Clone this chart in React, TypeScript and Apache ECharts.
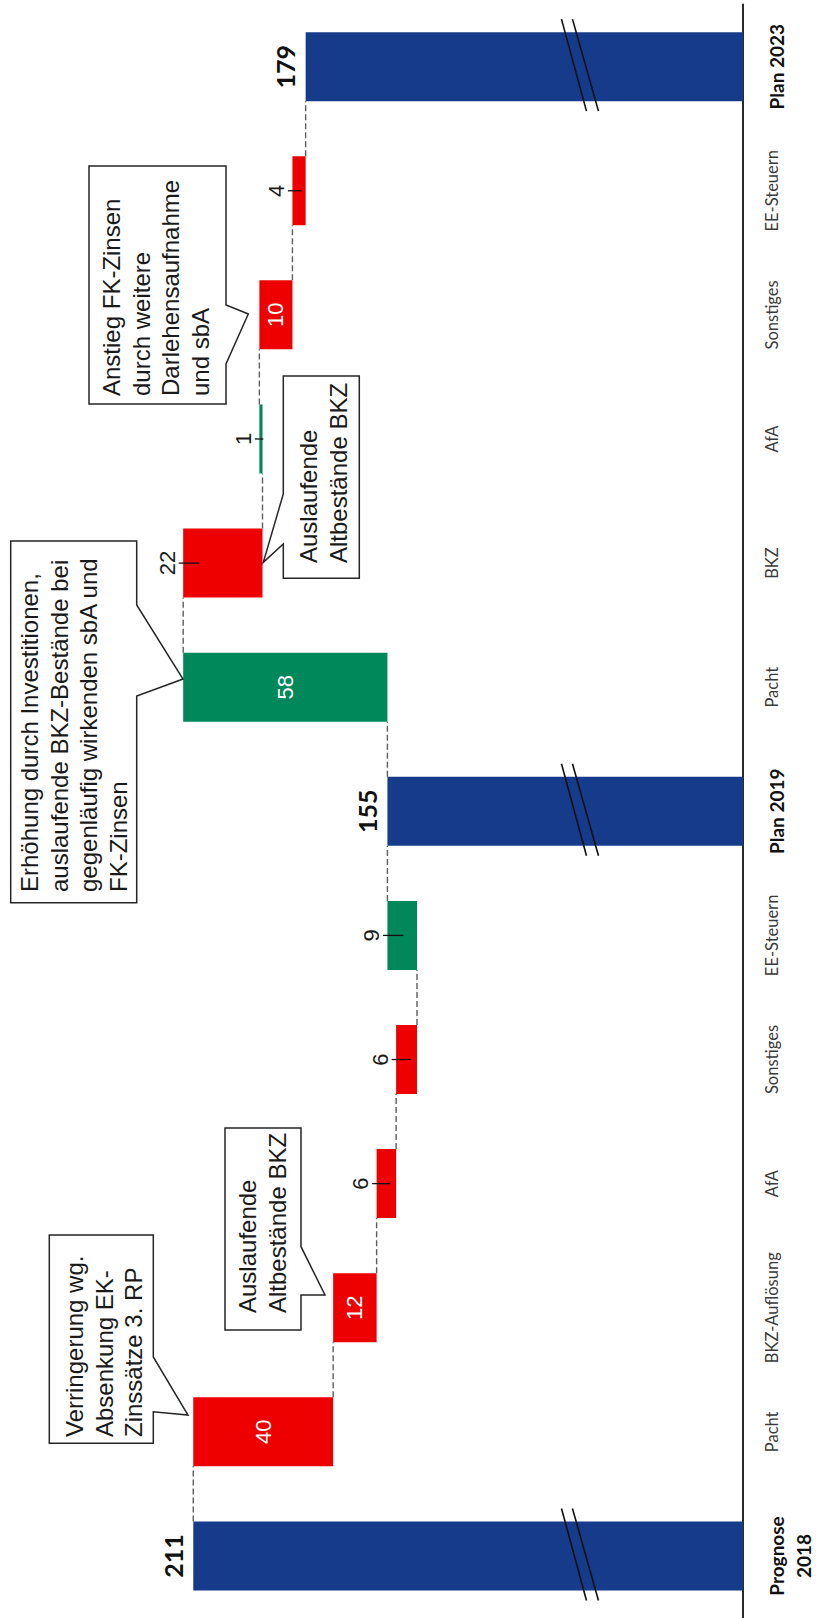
import React, { useEffect, useRef } from 'react';
import * as echarts from 'echarts';

// ---------- data ----------
const categories = [
  'Prognose\n2018', 'Pacht', 'BKZ-Auflösung', 'AfA', 'Sonstiges', 'EE-Steuern',
  'Plan 2019', 'Pacht', 'BKZ', 'AfA', 'Sonstiges', 'EE-Steuern', 'Plan 2023',
];
const isTotal = [true, false, false, false, false, false, true, false, false, false, false, false, true];
// first total is given, later totals (null) are the running sum; other entries are changes
const steps: (number | null)[] = [211, -40.2, -12.5, -5.6, -6.0, 8.5, null, 58.7, -22.8, 0.9, -9.5, -3.8, null];
const valueLabels = ['211', '40', '12', '6', '6', '9', '155', '58', '22', '1', '10', '4', '179'];
const labelSpots = ['total', 'inside', 'inside', 'outside', 'outside', 'outside', 'total', 'inside', 'outside', 'outside', 'inside', 'outside', 'total'];
const breakValue = 100;

const calloutTexts = [
  'Verringerung wg.\nAbsenkung EK-\nZinssätze 3. RP',
  'Auslaufende\nAltbestände BKZ',
  'Erhöhung durch Investitionen,\nauslaufende BKZ-Bestände bei\ngegenläufig wirkenden sbA und\nFK-Zinsen',
  'Auslaufende\nAltbestände BKZ',
  'Anstieg FK-Zinsen\ndurch weitere\nDarlehensaufnahme\nund sbA',
];

// ---------- styling ----------
const BLUE = '#163B8B';
const RED = '#EE0000';
const GREEN = '#00875A';
const BAR_W = 69;

const calloutShapes: number[][][] = [
  [[49.3, 1235], [153.3, 1235], [153.3, 1357], [188, 1415], [153.3, 1411.7], [153.3, 1443.3], [49.3, 1443.3]],
  [[225, 1128], [301, 1128], [301, 1246.7], [325, 1295], [301, 1295], [301, 1330], [225, 1330]],
  [[10.7, 541], [136.7, 541], [136.7, 605], [183, 679], [136.7, 696], [136.7, 902.7], [10.7, 902.7]],
  [[283.3, 376], [359.3, 376], [359.3, 578.3], [283.3, 578.3], [283.3, 544], [263.3, 562.3], [283.3, 494]],
  [[89, 166], [226, 166], [226, 305], [248.3, 314], [226, 364], [226, 404], [89, 404]],
];
const calloutAnchors = [[60, 1437], [233, 1313], [15, 892], [294, 563], [97, 396]];

export default function App() {
  const ref = useRef<HTMLDivElement>(null);

  useEffect(() => {
    if (!ref.current) return;
    const chart = echarts.init(ref.current, null, { renderer: 'svg' });

    // waterfall geometry from steps
    const lows: number[] = [];
    const highs: number[] = [];
    const ends: number[] = [];
    const colors: string[] = [];
    let run = 0;
    steps.forEach((s, i) => {
      if (isTotal[i]) {
        const t = s == null ? run : s;
        run = t;
        lows.push(0);
        highs.push(t);
        colors.push(BLUE);
      } else {
        const start = run;
        const end = run + (s as number);
        lows.push(Math.min(start, end));
        highs.push(Math.max(start, end));
        colors.push((s as number) < 0 ? RED : GREEN);
        run = end;
      }
      ends.push(run);
    });

    const baseData = lows.map((l) => l);
    const visData = highs.map((h, i) => ({ value: h - lows[i], itemStyle: { color: colors[i] } }));

    const labelData = categories.map((_, i) => [i, lows[i], highs[i]]);
    const connData = categories.slice(0, -1).map((_, i) => [i, ends[i]]);
    const breakData = categories.map((_, i) => i).filter((i) => isTotal[i]).map((i) => [i, breakValue]);

    const graphic: any[] = [];
    calloutShapes.forEach((pts, k) => {
      graphic.push({
        type: 'polygon',
        z: 20,
        shape: { points: pts },
        style: { fill: '#fff', stroke: '#262626', lineWidth: 1.5 },
      });
      graphic.push({
        type: 'text',
        z: 21,
        x: calloutAnchors[k][0],
        y: calloutAnchors[k][1],
        rotation: Math.PI / 2,
        style: {
          text: calloutTexts[k],
          fontFamily: 'Liberation Sans',
          fontSize: 24,
          lineHeight: 29.5,
          fill: '#1a1a1a',
          align: 'left',
          verticalAlign: 'top',
        },
      });
    });

    const option: any = {
      animation: false,
      grid: { left: 20, right: 73, top: 4.6, height: 1615 },
      xAxis: { type: 'value', inverse: true, min: 53, max: 260.8, show: false, splitLine: { show: false } },
      yAxis: {
        type: 'category',
        data: categories,
        position: 'right',
        axisLine: { onZero: false, lineStyle: { color: '#2b2b2b', width: 2 } },
        axisTick: { show: false },
        splitLine: { show: false },
        axisLabel: {
          interval: 0,
          rotate: 90,
          margin: 20,
          formatter: (v: string, idx: number) =>
            isTotal[idx] ? v.split('\n').map((s) => `{t|${s}}`).join('\n') : `{n|${v}}`,
          rich: {
            t: { fontFamily: 'Lato', fontWeight: 'bold', fontSize: 19, color: '#111', lineHeight: 27 },
            n: { fontFamily: 'Lato', fontSize: 16.5, color: '#3a3a3a' },
          },
        },
      },
      series: [
        {
          type: 'bar',
          stack: 'w',
          data: baseData,
          barWidth: BAR_W,
          silent: true,
          itemStyle: { color: 'rgba(0,0,0,0)' },
        },
        {
          type: 'bar',
          stack: 'w',
          data: visData,
          barWidth: BAR_W,
        },
        {
          type: 'custom',
          z: 3,
          encode: { x: 1, y: 0 },
          data: connData,
          renderItem: (params: any, api: any) => {
            const i = api.value(0);
            const v = api.value(1);
            const p0 = api.coord([v, i]);
            const p1 = api.coord([v, i + 1]);
            return {
              type: 'line',
              shape: { x1: p0[0], y1: p0[1] - BAR_W / 2, x2: p1[0], y2: p1[1] + BAR_W / 2 },
              style: { stroke: '#5e5e5e', lineWidth: 1.4, lineDash: [6, 3] },
            };
          },
        },
        {
          type: 'custom',
          z: 6,
          encode: { x: 1, y: 0 },
          data: breakData,
          renderItem: (params: any, api: any) => {
            const i = api.value(0);
            const v = api.value(1);
            const p = api.coord([v, i]);
            const top = p[1] - BAR_W / 2;
            const bot = p[1] + BAR_W / 2;
            const st = { stroke: '#111', lineWidth: 1.6 };
            return {
              type: 'group',
              children: [
                { type: 'line', shape: { x1: p[0] - 18, y1: top - 13, x2: p[0] + 7, y2: bot + 10 }, style: st },
                { type: 'line', shape: { x1: p[0] - 7, y1: top - 13, x2: p[0] + 19, y2: bot + 10 }, style: st },
              ],
            };
          },
        },
        {
          type: 'custom',
          z: 7,
          encode: { x: [1, 2], y: 0 },
          data: labelData,
          renderItem: (params: any, api: any) => {
            const idx = params.dataIndex;
            const i = api.value(0);
            const low = api.value(1);
            const high = api.value(2);
            const pH = api.coord([high, i]);
            const pL = api.coord([low, i]);
            const cs = params.coordSys;
            const xL = pH[0];
            const xR = Math.min(pL[0], cs.x + cs.width);
            const yc = pH[1];
            const spot = labelSpots[idx];
            const txt = valueLabels[idx];
            if (spot === 'inside') {
              return {
                type: 'text',
                x: (xL + xR) / 2,
                y: yc,
                rotation: Math.PI / 2,
                style: {
                  text: txt, x: 0, y: 0, fill: '#fff', fontFamily: 'Liberation Sans', fontSize: 22,
                  align: 'center', verticalAlign: 'middle',
                },
              };
            }
            if (spot === 'total') {
              return {
                type: 'text',
                x: xL - 8,
                y: yc,
                rotation: Math.PI / 2,
                style: {
                  text: txt, x: 0, y: 0, fill: '#111', fontFamily: 'Lato', fontWeight: 'bold', fontSize: 25,
                  align: 'center', verticalAlign: 'bottom',
                },
              };
            }
            const w = xR - xL;
            const tickIn = Math.max(4, Math.min(16, w * 0.7));
            return {
              type: 'group',
              children: [
                {
                  type: 'line',
                  shape: { x1: xL - 4.5, y1: yc, x2: xL + tickIn, y2: yc },
                  style: { stroke: '#111', lineWidth: 1.3 },
                },
                {
                  type: 'text',
                  x: xL - 5,
                  y: yc,
                  rotation: Math.PI / 2,
                  style: {
                    text: txt, x: 0, y: 0, fill: '#1a1a1a', fontFamily: 'Liberation Sans', fontSize: 22,
                    align: 'center', verticalAlign: 'bottom',
                  },
                },
              ],
            };
          },
        },
      ],
      graphic,
    };

    chart.setOption(option);
    return () => chart.dispose();
  }, []);

  return (
    <div
      ref={ref}
      style={{ position: 'absolute', left: 0, top: 0, width: 816, height: 1618, background: '#fff' }}
    />
  );
}
